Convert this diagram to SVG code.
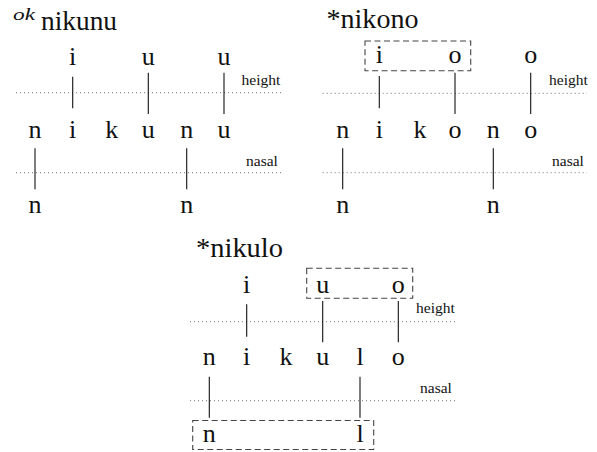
<svg xmlns="http://www.w3.org/2000/svg" width="597" height="452" viewBox="0 0 597 452">
<style>
text{fill:#111;}
.s{font-size:26px;text-anchor:middle;}
.t{font-size:27px;}
.sup{font-size:16px;font-style:italic;}
.lab{font-size:15.5px;}
.assoc{stroke:#111;stroke-width:1.1;}
.tier{stroke:#777;stroke-width:1;stroke-dasharray:1 3;}
.box{fill:none;stroke:#444;stroke-width:1.1;stroke-dasharray:6 3.5;}
</style>
<rect width="597" height="452" fill="#fff"/>
<g font-family="'Liberation Serif', 'DejaVu Serif', serif">
<g id="panel-nikunu">
  <g id="title1"><text class="sup" x="13" y="19.5" textLength="22" lengthAdjust="spacingAndGlyphs">ok</text><text class="t" x="41" y="30" textLength="76" lengthAdjust="spacingAndGlyphs">nikunu</text></g>
  <g id="p1-height-tier"><line class="tier" x1="16" y1="92.7" x2="281" y2="92.7"/><text class="lab" x="241.5" y="85">height</text></g>
  <g id="p1-nasal-tier"><line class="tier" x1="16" y1="172.7" x2="281" y2="172.7"/><text class="lab" x="246" y="166">nasal</text></g>
  <g id="p1-top"><text class="s" x="72.7" y="65">i</text><text class="s" x="148.3" y="65">u</text><text class="s" x="224" y="65">u</text></g>
  <g id="p1-mid"><text class="s" x="35" y="138.3">n</text><text class="s" x="72.7" y="138.3">i</text><text class="s" x="111.7" y="138.3">k</text><text class="s" x="148.3" y="138.3">u</text><text class="s" x="186.7" y="138.3">n</text><text class="s" x="224" y="138.3">u</text></g>
  <g id="p1-bot"><text class="s" x="35" y="213">n</text><text class="s" x="186.7" y="213">n</text></g>
  <g id="p1-connectors">
    <line class="assoc" x1="72.7" y1="76.7" x2="72.7" y2="108.3"/>
    <line class="assoc" x1="148.3" y1="72.7" x2="148.3" y2="114"/>
    <line class="assoc" x1="224" y1="72.7" x2="224" y2="114"/>
    <line class="assoc" x1="35" y1="148.3" x2="35" y2="189.3"/>
    <line class="assoc" x1="186.7" y1="148.3" x2="186.7" y2="189.3"/>
  </g>
</g>
<g id="panel-nikono">
  <g id="title2"><text class="t" x="326.5" y="27.5" textLength="92" lengthAdjust="spacingAndGlyphs">*nikono</text></g>
  <g id="p2-height-tier"><line class="tier" x1="322.7" y1="93.3" x2="587" y2="93.3"/><text class="lab" x="549" y="85">height</text></g>
  <g id="p2-nasal-tier"><line class="tier" x1="322.7" y1="172.7" x2="587" y2="172.7"/><text class="lab" x="552" y="166">nasal</text></g>
  <g id="p2-top"><rect class="box" x="365" y="41" width="105.7" height="29.7"/><text class="s" x="379.3" y="63.3">i</text><text class="s" x="455" y="63.3">o</text><text class="s" x="530.7" y="63.3">o</text></g>
  <g id="p2-mid"><text class="s" x="342.7" y="137.7">n</text><text class="s" x="379.3" y="137.7">i</text><text class="s" x="420" y="137.7">k</text><text class="s" x="455" y="137.7">o</text><text class="s" x="493.3" y="137.7">n</text><text class="s" x="530.7" y="137.7">o</text></g>
  <g id="p2-bot"><text class="s" x="342.7" y="213">n</text><text class="s" x="493.3" y="213">n</text></g>
  <g id="p2-connectors">
    <line class="assoc" x1="379.3" y1="76" x2="379.3" y2="108.3"/>
    <line class="assoc" x1="455" y1="72.7" x2="455" y2="114"/>
    <line class="assoc" x1="530.7" y1="72.7" x2="530.7" y2="114"/>
    <line class="assoc" x1="342.7" y1="148.3" x2="342.7" y2="189.3"/>
    <line class="assoc" x1="493.3" y1="148.3" x2="493.3" y2="189.3"/>
  </g>
</g>
<g id="panel-nikulo">
  <g id="title3"><text class="t" x="196" y="256.7" textLength="87" lengthAdjust="spacingAndGlyphs">*nikulo</text></g>
  <g id="p3-height-tier"><line class="tier" x1="190" y1="321.7" x2="455" y2="321.7"/><text class="lab" x="416" y="313.3">height</text></g>
  <g id="p3-nasal-tier"><line class="tier" x1="190" y1="400.7" x2="455" y2="400.7"/><text class="lab" x="420" y="393.3">nasal</text></g>
  <g id="p3-top"><rect class="box" x="306.7" y="268.3" width="106" height="30"/><text class="s" x="246.7" y="293.3">i</text><text class="s" x="322.7" y="293.3">u</text><text class="s" x="398.3" y="293.3">o</text></g>
  <g id="p3-mid"><text class="s" x="209.3" y="365">n</text><text class="s" x="246.7" y="365">i</text><text class="s" x="286" y="365">k</text><text class="s" x="322.7" y="365">u</text><text class="s" x="360" y="365">l</text><text class="s" x="398.3" y="365">o</text></g>
  <g id="p3-bot"><rect class="box" x="192.7" y="420.5" width="181" height="29"/><text class="s" x="209.3" y="441.7">n</text><text class="s" x="360" y="441.7">l</text></g>
  <g id="p3-connectors">
    <line class="assoc" x1="246.7" y1="304.3" x2="246.7" y2="336.7"/>
    <line class="assoc" x1="322.7" y1="301" x2="322.7" y2="342.3"/>
    <line class="assoc" x1="398.3" y1="301" x2="398.3" y2="342.3"/>
    <line class="assoc" x1="209.3" y1="376.7" x2="209.3" y2="417.7"/>
    <line class="assoc" x1="360" y1="376.7" x2="360" y2="417.7"/>
  </g>
</g>
</g>
</svg>
